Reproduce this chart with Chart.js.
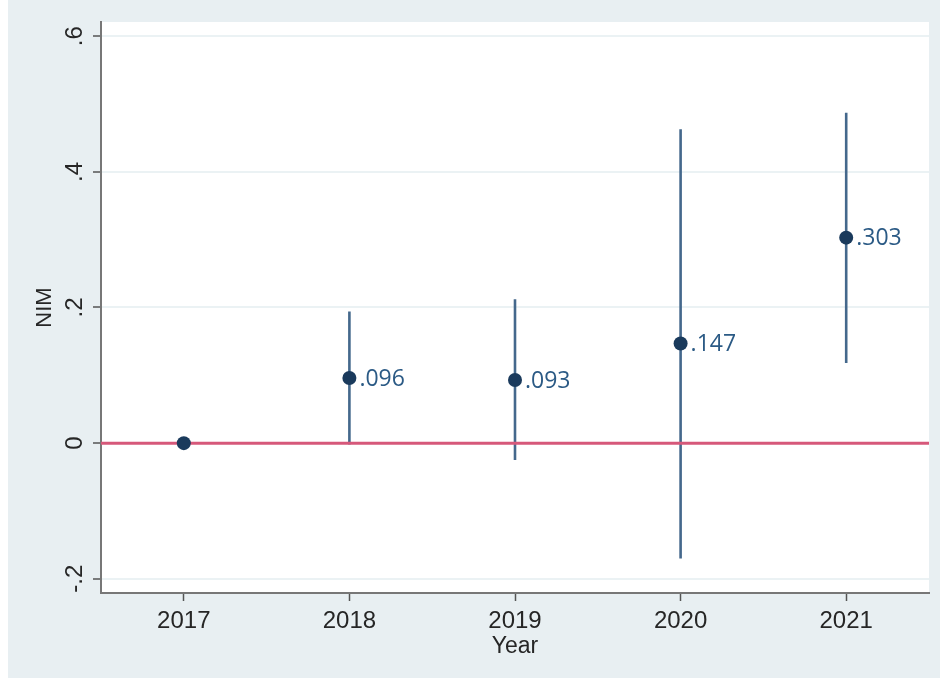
<!DOCTYPE html>
<html>
<head>
<meta charset="utf-8">
<script src="https://cdn.jsdelivr.net/npm/chart.js@4"></script>
<style>
    html, body { margin: 0; padding: 0; background: #fff; }
    #wrap { position: absolute; left: 8px; top: 0; width: 932px; height: 678px; background: #e8eff2; }
</style>
</head>
<body>
<div id="wrap"><canvas id="coefChart"></canvas></div>
<script>
// values
const years = [2017, 2018, 2019, 2020, 2021];
const coef = [0, 0.096, 0.093, 0.147, 0.303];
const ciLow = [null, -0.002, -0.025, -0.170, 0.118];
const ciHigh = [null, 0.194, 0.212, 0.463, 0.487];
const yTicks = [-0.2, 0, 0.2, 0.4, 0.6];
const refValue = 0;

// Stata style tick text: ".6", "-.2"
function stataNum(v) {
    return String(+v.toFixed(3)).replace(/^(-?)0\./, '$1.');
}

// vertical CI segments, broken by null gaps
const ciData = [];
years.forEach((yr, i) => {
    if (ciLow[i] === null) return;
    ciData.push({ x: yr, y: ciLow[i] });
    ciData.push({ x: yr, y: ciHigh[i] });
    ciData.push({ x: yr, y: null });
});

const plotBg = {
    id: 'plotBg',
    beforeDraw(chart) {
        const { ctx, chartArea: a } = chart;
        ctx.save();
        ctx.fillStyle = '#ffffff';
        ctx.fillRect(a.left, a.top, a.right - a.left, a.bottom - a.top);
        ctx.restore();
    }
};

const coefLabels = {
    id: 'coefLabels',
    afterDatasetsDraw(chart) {
        const meta = chart.getDatasetMeta(2);
        const ctx = chart.ctx;
        ctx.save();
        ctx.font = '23px "Open Sans", sans-serif';
        ctx.fillStyle = '#2b5a85';
        ctx.textAlign = 'left';
        ctx.textBaseline = 'middle';
        meta.data.forEach((pt, i) => {
            if (coef[i] === 0) return;
            ctx.fillText(stataNum(coef[i]), pt.x + 10, pt.y + 1);
        });
        ctx.restore();
    }
};

const axisFont = '"Liberation Sans", Arial, sans-serif';

new Chart(document.getElementById('coefChart'), {
    type: 'scatter',
    data: {
        datasets: [
            {
                data: ciData,
                showLine: true,
                spanGaps: false,
                borderColor: '#44688c',
                borderWidth: 2.6,
                pointRadius: 0,
                order: 2
            },
            {
                data: [{ x: years[0] - 0.5, y: refValue }, { x: years[years.length - 1] + 0.5, y: refValue }],
                showLine: true,
                borderColor: '#d6587a',
                borderWidth: 3,
                pointRadius: 0,
                order: 1
            },
            {
                data: years.map((yr, i) => ({ x: yr, y: coef[i] })),
                pointRadius: 7,
                pointBackgroundColor: '#1a3a5c',
                pointBorderWidth: 0,
                order: 0
            }
        ]
    },
    options: {
        responsive: true,
        maintainAspectRatio: false,
        animation: false,
        layout: { padding: { top: 22, right: 11, left: 0, bottom: 0 } },
        plugins: {
            legend: { display: false },
            tooltip: { enabled: false }
        },
        scales: {
            x: {
                type: 'linear',
                min: years[0] - 0.5,
                max: years[years.length - 1] + 0.5,
                afterBuildTicks: s => { s.ticks = years.map(v => ({ value: v })); },
                afterFit: s => { s.height = 85; },
                grid: { drawOnChartArea: false, tickLength: 8, tickColor: '#555', tickWidth: 1.5 },
                border: { color: '#777', width: 2 },
                ticks: {
                    padding: 6,
                    color: '#262626',
                    font: { family: axisFont, size: 24 },
                    callback: v => String(v)
                },
                title: {
                    display: true,
                    text: 'Year',
                    color: '#262626',
                    font: { family: axisFont, size: 23 },
                    padding: { top: 0, bottom: 18 }
                }
            },
            y: {
                min: -0.221,
                max: 0.621,
                afterBuildTicks: s => { s.ticks = yTicks.map(v => ({ value: v })); },
                afterFit: s => { s.width = 93; },
                grid: { color: '#ebf2f4', lineWidth: 2, tickLength: 8, tickColor: '#555', tickWidth: 1.5 },
                border: { color: '#777', width: 2 },
                ticks: {
                    padding: 4,
                    minRotation: 90,
                    maxRotation: 90,
                    crossAlign: 'center',
                    color: '#262626',
                    font: { family: axisFont, size: 24 },
                    callback: v => stataNum(v)
                },
                title: {
                    display: true,
                    text: 'NIM',
                    color: '#262626',
                    font: { family: axisFont, size: 22 },
                    padding: { top: 24, bottom: 0 }
                }
            }
        }
    },
    plugins: [plotBg, coefLabels]
});
</script>
</body>
</html>
